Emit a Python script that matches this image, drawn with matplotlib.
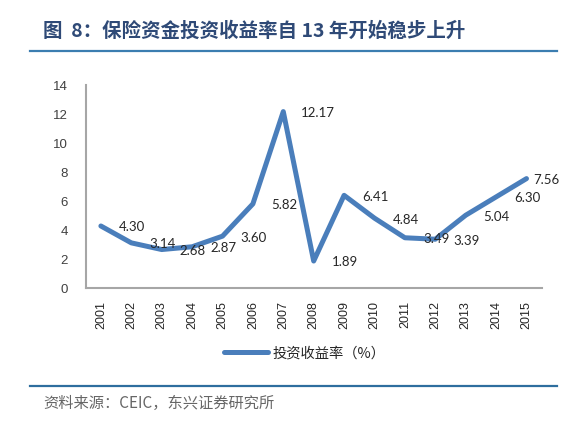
import numpy as np
import matplotlib
matplotlib.use("Agg")
import matplotlib.pyplot as plt

plt.rcParams['font.family'] = ['Noto Sans CJK SC', 'DejaVu Sans']

# 数据
years = ['2001', '2002', '2003', '2004', '2005', '2006', '2007', '2008',
         '2009', '2010', '2011', '2012', '2013', '2014', '2015']
rates = [4.30, 3.14, 2.68, 2.87, 3.60, 5.82, 12.17, 1.89,
         6.41, 4.84, 3.49, 3.39, 5.04, 6.30, 7.56]
y_ticks = [0, 2, 4, 6, 8, 10, 12, 14]

title = '图  8：保险资金投资收益率自 13 年开始稳步上升'
legend_label = '投资收益率（%）'
source = '资料来源：CEIC，东兴证券研究所'

fig = plt.figure(figsize=(5.77, 4.25), dpi=100)
ax = fig.add_axes([0.1485, 0.3212, 0.7903, 0.4788])

x = np.arange(len(years))
ax.plot(x, rates, color='#4A7EBB', lw=3.6, solid_capstyle='round',
        solid_joinstyle='round', label=legend_label)

# 数据标签放在点的右侧，最后一个贴近一些
for xi, v in zip(x, rates):
    dx = 5 if xi == len(years) - 1 else 13
    ax.annotate('%.2f' % v, (xi, v), xytext=(dx, -1), textcoords='offset points',
                ha='left', va='center', fontsize=9.5, color='#262626',
                family=['Lato', 'DejaVu Sans'])

ax.set_xlim(-0.5, len(years) - 0.5)
ax.set_ylim(0, 14)
ax.set_yticks(y_ticks)
ax.set_xticks(x)
ax.set_xticklabels(years, rotation=90, family=['Liberation Sans'], fontsize=9,
                   color='#262626')
ax.set_yticklabels([str(t) for t in y_ticks], family=['Liberation Sans'],
                   fontsize=9.5, color='#404040')
ax.tick_params(axis='both', length=0)
ax.tick_params(axis='y', pad=13)
ax.tick_params(axis='x', pad=9)

for s in ['top', 'right']:
    ax.spines[s].set_visible(False)
for s in ['left', 'bottom']:
    ax.spines[s].set_color('#A6A6A6')
    ax.spines[s].set_linewidth(1.5)

leg = fig.legend(loc='center', bbox_to_anchor=(0.528, 0.169), frameon=False,
                 fontsize=10.3, handlelength=3.1, handletextpad=0.3)
for t in leg.get_texts():
    t.set_color('#262626')

# 标题与横线
fig.text(43 / 577, 1 - 31 / 425, title, fontsize=14, fontweight='bold',
         color='#2F4A77', ha='left', va='center')
fig.add_artist(plt.Line2D([30 / 577, 557 / 577], [1 - 51 / 425, 1 - 51 / 425],
                          color='#3B7DB0', lw=1.6))
fig.add_artist(plt.Line2D([30 / 577, 557 / 577], [1 - 386 / 425, 1 - 386 / 425],
                          color='#2E6E9E', lw=1.6))
fig.text(43 / 577, 1 - 403 / 425, source, fontsize=11, color='#666666',
         ha='left', va='center', style='italic')

fig.savefig('out.png', dpi=100)
